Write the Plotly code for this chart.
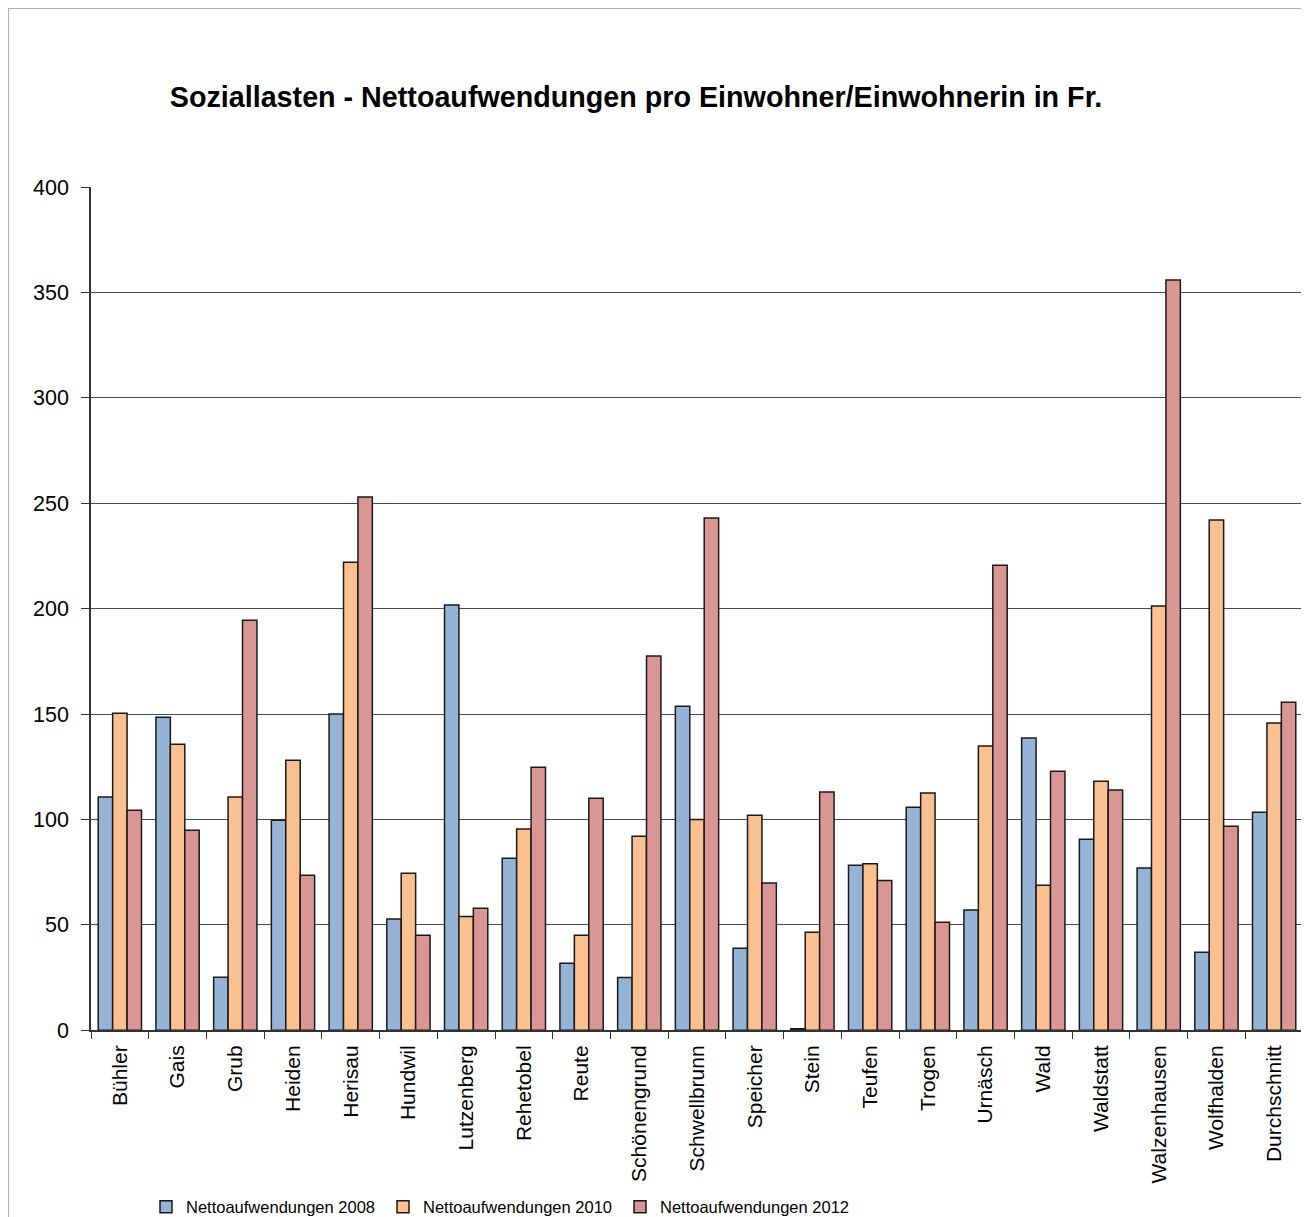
import plotly.graph_objects as go

categories = ["Bühler", "Gais", "Grub", "Heiden", "Herisau", "Hundwil", "Lutzenberg",
              "Rehetobel", "Reute", "Schönengrund", "Schwellbrunn", "Speicher", "Stein",
              "Teufen", "Trogen", "Urnäsch", "Wald", "Waldstatt", "Walzenhausen",
              "Wolfhalden", "Durchschnitt"]
values_2008 = [110.6, 148.5, 25.1, 99.6, 150.0, 52.7, 201.7, 81.6, 31.8, 25.0, 153.7,
               38.9, 0.7, 78.3, 105.8, 57.0, 138.6, 90.6, 76.9, 37.0, 103.4]
values_2010 = [150.4, 135.7, 110.6, 128.1, 222.0, 74.5, 54.0, 95.4, 45.0, 92.0, 100.0,
               102.0, 46.5, 79.0, 112.5, 134.8, 68.8, 118.1, 201.2, 242.0, 145.7]
values_2012 = [104.4, 94.9, 194.5, 73.5, 253.0, 45.0, 57.9, 124.8, 110.0, 177.5, 243.0,
               69.8, 113.0, 71.0, 51.2, 220.6, 122.9, 113.9, 355.9, 96.8, 155.6]
series_names = ["Nettoaufwendungen 2008", "Nettoaufwendungen 2010", "Nettoaufwendungen 2012"]
y_ticks = [0, 50, 100, 150, 200, 250, 300, 350, 400]

colors = ["#95B3D7", "#FAC090", "#D99694"]
font = "Liberation Sans, Arial, sans-serif"

fig = go.Figure()
for name, vals, col in zip(series_names, [values_2008, values_2010, values_2012], colors):
    fig.add_trace(go.Bar(
        x=categories, y=vals, name=name,
        marker=dict(color=col, line=dict(color="#1a1a1a", width=1.5)),
    ))

# page body has an 8px margin, so the figure is drawn 8px smaller / offset
OFF = 8
W, H = 1309 - OFF, 1217 - OFF
l, r, t, b = 91 - OFF, 6, 187 - OFF, 187
b_set = b - 10  # legend pushes the bottom margin by ~10px
pw = W - l - r
ph = H - t - b

fig.update_layout(
    width=W, height=H,
    margin=dict(l=l, r=r, t=t, b=b_set, pad=0),
    paper_bgcolor="white", plot_bgcolor="white",
    barmode="group", bargap=0.25, bargroupgap=0.0,
    font=dict(family=font, color="black"),
    title=dict(text="<b>Soziallasten - Nettoaufwendungen pro Einwohner/Einwohnerin in Fr.</b>",
               x=(636 - OFF) / W, xanchor="center", y=1 - (97 - OFF) / H, yanchor="middle",
               font=dict(size=28.7, family=font, color="black")),
    showlegend=True,
    legend=dict(orientation="h", x=(146 - OFF) / W, xanchor="left", xref="container",
                y=1 - (1207 - OFF) / H, yanchor="middle", yref="container",
                font=dict(size=16.5, family=font), entrywidth=192, entrywidthmode="pixels",
                itemwidth=30, bgcolor="rgba(0,0,0,0)", traceorder="normal"),
    xaxis=dict(type="category", tickangle=-90, tickfont=dict(size=21, family=font),
               showline=True, linecolor="#333333", linewidth=1.5, mirror=False,
               ticks="outside", tickson="boundaries", ticklen=7, tickcolor="#333333",
               ticklabelstandoff=5, showgrid=False),
    yaxis=dict(range=[0, 400], tickvals=y_ticks, tickfont=dict(size=21.5, family=font),
               showline=True, linecolor="#333333", linewidth=1.5,
               ticks="outside", ticklen=8, tickcolor="#333333", ticklabelstandoff=8,
               showgrid=True, gridcolor="#4a4a4a", gridwidth=1, zeroline=False),
    shapes=[
        dict(type="line", xref="paper", yref="paper", x0=1, x1=1, y0=0, y1=1,
             line=dict(color="#888888", width=1.5)),
        dict(type="rect", xref="paper", yref="paper",
             x0=(0.5 - l) / pw, x1=(1306 - OFF - l) / pw,
             y0=(H - b - (H + 20)) / ph, y1=(H - b - 0.5) / ph,
             line=dict(color="#b0b0b0", width=1.2), fillcolor="rgba(0,0,0,0)", layer="below"),
    ],
)

fig.write_html("out.html")
